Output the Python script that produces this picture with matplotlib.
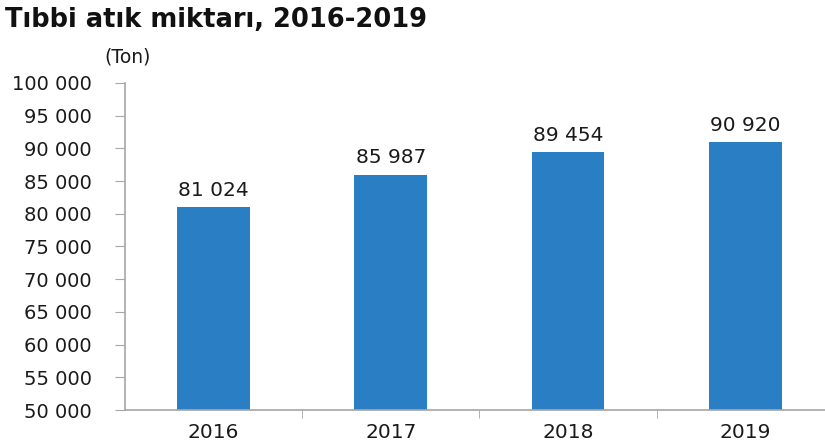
import matplotlib
matplotlib.use("Agg")
import matplotlib.pyplot as plt
from matplotlib.ticker import FixedLocator, FuncFormatter

plt.rcParams['font.family'] = ['DejaVu Sans']

# data
years = ['2016', '2017', '2018', '2019']
waste_ton = [81024, 85987, 89454, 90920]

BAR_COLOR = '#2a7fc4'
AXIS_COLOR = '#a6a6a6'


def spaced(v, pos=None):
    return f'{int(v):,}'.replace(',', ' ')


fig = plt.figure(figsize=(8.25, 4.46), dpi=100)
ax = fig.add_axes([0.1515, 0.0807, 0.8485, 0.7333])

x = range(len(years))
bars = ax.bar(x, waste_ton, width=0.41, color=BAR_COLOR, zorder=2)

for bar, val in zip(bars, waste_ton):
    ax.text(bar.get_x() + bar.get_width() / 2, val + 1100, spaced(val),
            ha='center', va='bottom', fontsize=14.5, color='#1a1a1a')

ax.set_ylim(50000, 100000)
ax.set_xlim(-0.5, 3.45)
ax.set_yticks(range(50000, 100001, 5000))
ax.yaxis.set_major_formatter(FuncFormatter(spaced))

ax.set_xticks(list(x))
ax.set_xticklabels(years)
ax.xaxis.set_minor_locator(FixedLocator([0.5, 1.5, 2.5]))
ax.tick_params(axis='x', which='major', length=0, pad=9, labelsize=14.5,
               labelcolor='#1a1a1a')
ax.tick_params(axis='x', which='minor', length=6, color=AXIS_COLOR, direction='out')
ax.tick_params(axis='y', length=7, color=AXIS_COLOR, pad=17, labelsize=14,
               labelcolor='#1a1a1a')

for s in ['top', 'right']:
    ax.spines[s].set_visible(False)
for s in ['left', 'bottom']:
    ax.spines[s].set_color(AXIS_COLOR)
    ax.spines[s].set_linewidth(1.2)

fig.text(0.006, 0.955, 'Tıbbi atık miktarı, 2016-2019', fontsize=18.5,
         fontweight='bold', ha='left', va='center', color='#111111')
fig.text(0.127, 0.872, '(Ton)', fontsize=13.5, ha='left', va='center',
         color='#1a1a1a')

fig.savefig('out.png', dpi=100)
